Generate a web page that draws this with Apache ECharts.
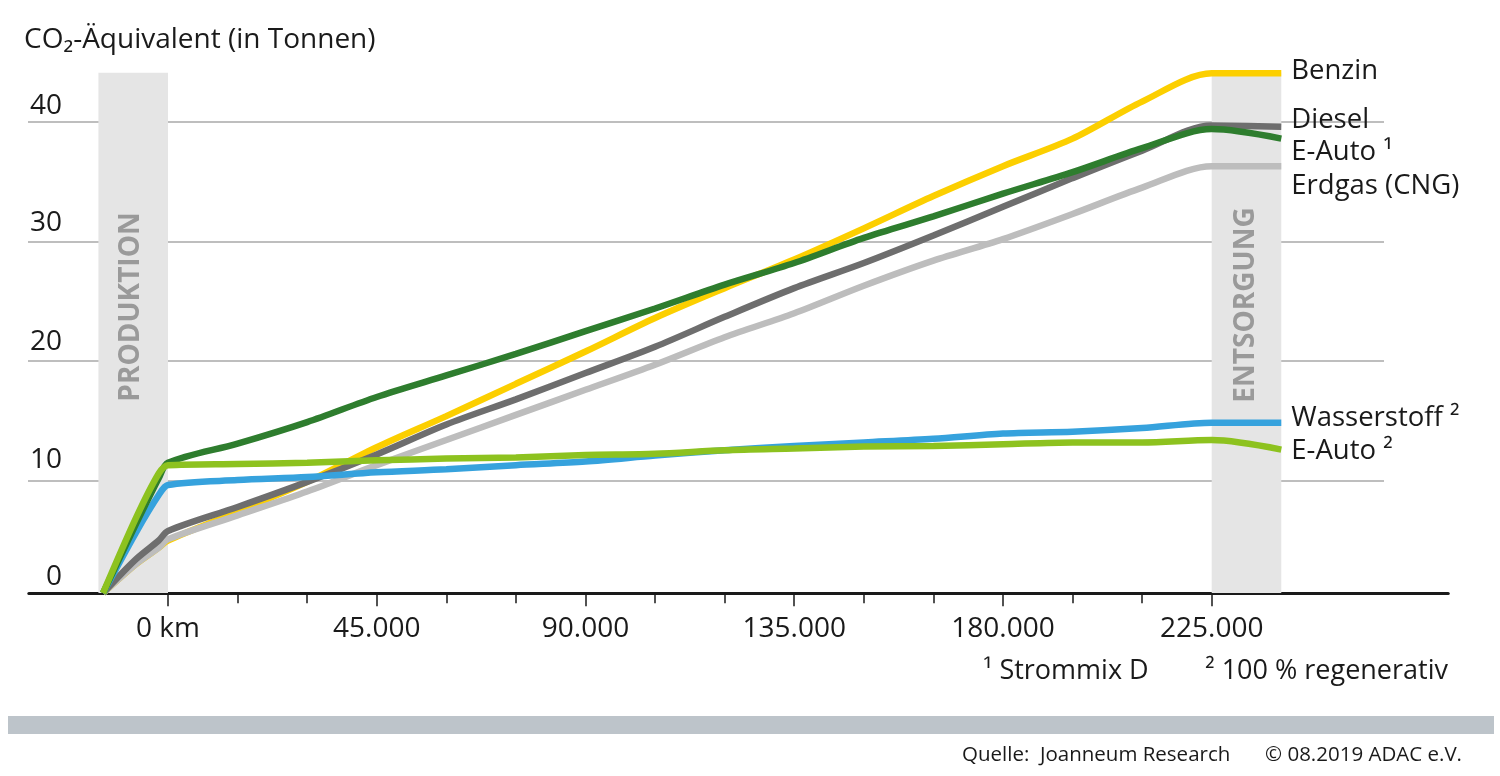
<!DOCTYPE html>
<html><head><meta charset="utf-8">
<script src="https://cdn.jsdelivr.net/npm/echarts@6/dist/echarts.min.js"></script>
<style>html,body{margin:0;padding:0;background:#fff}#c{width:1500px;height:776px}</style>
</head><body><div id="c"></div>
<script>
// ---- data (km, tonnes CO2-equivalent) ----
const km          = [-14000, -7000, -2000, 0, 15000, 30000, 45000, 60000, 75000, 90000, 105000, 120000, 135000, 150000, 165000, 180000, 195000, 210000, 225000, 240000];
const benzin      = [0.6, 3.0, 4.4, 5.0, 7.4, 9.9, 12.8, 15.4, 18.1, 20.8, 23.6, 26.1, 28.5, 31.1, 33.8, 36.3, 38.6, 41.7, 44.06, 44.06];
const diesel      = [0.6, 3.4, 5.0, 5.8, 7.8, 9.9, 12.2, 14.7, 16.8, 19.0, 21.2, 23.7, 26.1, 28.2, 30.5, 32.9, 35.3, 37.6, 39.7, 39.6];
const eAuto1      = [0.6, 6.3, 10.2, 11.5, 13.1, 14.9, 17.0, 18.8, 20.6, 22.5, 24.4, 26.4, 28.2, 30.3, 32.1, 34.0, 35.8, 37.8, 39.4, 38.6];
const erdgas      = [0.6, 3.0, 4.4, 5.1, 7.1, 9.1, 11.3, 13.4, 15.5, 17.6, 19.7, 22.0, 24.0, 26.3, 28.4, 30.2, 32.3, 34.5, 36.3, 36.3];
const wasserstoff = [0.6, 5.6, 8.8, 9.64, 10.05, 10.3, 10.7, 10.95, 11.3, 11.6, 12.1, 12.55, 12.9, 13.2, 13.5, 13.95, 14.1, 14.4, 14.85, 14.85];
const eAuto2      = [0.6, 6.8, 10.6, 11.3, 11.4, 11.5, 11.7, 11.85, 11.95, 12.15, 12.25, 12.55, 12.7, 12.85, 12.9, 13.05, 13.2, 13.2, 13.4, 12.6];

const seriesNames = ['Benzin', 'Erdgas (CNG)', 'Diesel', 'Wasserstoff ²', 'E-Auto ¹', 'E-Auto ²'];
const xTickValues = [0, 45000, 90000, 135000, 180000, 225000];
const xTickLabels = ['0 km', '45.000', '90.000', '135.000', '180.000', '225.000'];
const xMinorTicks = [0, 15000, 30000, 45000, 60000, 75000, 90000, 105000, 120000, 135000, 150000, 165000, 180000, 195000, 210000, 225000];
const phases      = [['PRODUKTION', -15000, 0], ['ENTSORGUNG', 225000, 240000]];
const bandRange   = [0.6, 44.1];

const FONT = '"Open Sans"';
const chart = echarts.init(document.getElementById('c'), null, {renderer: 'canvas'});

function mk(name, vals, color, offY) {
  return {
    name: name, type: 'line', xAxisIndex: 0, yAxisIndex: 0,
    data: km.map((x, i) => [x, vals[i]]),
    smooth: 0.3, symbol: 'none', z: 3,
    lineStyle: {color: color, width: 6.5, cap: 'butt'},
    itemStyle: {color: color},
    endLabel: {show: true, formatter: name, distance: 10, offset: [0, offY],
      fontFamily: FONT, fontSize: 27.5, color: '#1a1a1a'},
    emphasis: {disabled: true}, silent: true
  };
}

const yLabelRich = {
  l0:  {fontFamily: FONT, fontSize: 28, color: '#1a1a1a', lineHeight: 28, padding: [0, 0, 18, 0]},
  l10: {fontFamily: FONT, fontSize: 28, color: '#1a1a1a', lineHeight: 28, padding: [0, 0, 14, 0]},
  l20: {fontFamily: FONT, fontSize: 28, color: '#1a1a1a', lineHeight: 28, padding: [0, 0, 10, 0]},
  l30: {fontFamily: FONT, fontSize: 28, color: '#1a1a1a', lineHeight: 28, padding: [0, 0, 8, 0]},
  l40: {fontFamily: FONT, fontSize: 28, color: '#1a1a1a', lineHeight: 28, padding: [0, 0, 4, 0]}
};

const option = {
  animation: false,
  backgroundColor: '#fff',
  grid: [
    {left: 28.84, width: 1419.44, top: 62.1, height: 538.2},
    {left: 28, width: 1356, top: 62.1, height: 538.2}
  ],
  xAxis: [
    {type: 'value', gridIndex: 0, min: -30000, max: 276000, position: 'bottom', offset: -7,
     axisLine: {show: true, lineStyle: {color: '#1a1a1a', width: 3}},
     axisTick: {show: true, customValues: xMinorTicks, length: 10, lineStyle: {color: '#1a1a1a', width: 1.5}},
     axisLabel: {show: true, customValues: xTickValues, margin: 22, fontFamily: FONT, fontSize: 28, color: '#1a1a1a',
       formatter: v => xTickLabels[xTickValues.indexOf(v)]},
     splitLine: {show: false}},
    {type: 'value', gridIndex: 0, min: -30000, max: 276000, position: 'bottom', offset: -7,
     axisLine: {show: false},
     axisTick: {show: true, customValues: xTickValues, length: 13, lineStyle: {color: '#1a1a1a', width: 1.5}},
     axisLabel: {show: false}, splitLine: {show: false}},
    {type: 'value', gridIndex: 1, min: 0, max: 1, show: false}
  ],
  yAxis: [
    {type: 'value', gridIndex: 0, min: 0, max: 45, show: false, splitLine: {show: false}},
    {type: 'value', gridIndex: 1, min: 0, max: 45, interval: 10, z: 1,
     axisLine: {show: false}, axisTick: {show: false},
     splitLine: {show: true, showMinLine: false, showMaxLine: false, lineStyle: {color: '#a9a9a9', width: 1.5}},
     axisLabel: {inside: true, margin: 34, align: 'right', verticalAlign: 'bottom',
       fontFamily: FONT, fontSize: 28, color: '#1a1a1a', showMaxLabel: false,
       formatter: v => '{l' + v + '|' + v + '}', rich: yLabelRich}}
  ],
  series: [
    {type: 'line', xAxisIndex: 0, yAxisIndex: 0, z: 0, silent: true,
     data: [], symbol: 'none',
     markArea: {silent: true, itemStyle: {color: '#e5e5e5'},
       data: phases.map(p => [{coord: [p[1], bandRange[0]]}, {coord: [p[2], bandRange[1]]}])}},
    mk(seriesNames[0], benzin, '#fccf00', -2),
    mk(seriesNames[1], erdgas, '#bdbdbd', 20),
    mk(seriesNames[2], diesel, '#6e6e6e', -7),
    mk(seriesNames[3], wasserstoff, '#36a2dd', -5),
    mk(seriesNames[4], eAuto1, '#2e7d2e', 14),
    mk(seriesNames[5], eAuto2, '#8dc21f', 2)
  ],
  graphic: [
    {type: 'text', left: 24, top: 26, z: 10, style: {text: 'CO₂-Äquivalent (in Tonnen)', font: '28px ' + FONT, fill: '#1a1a1a'}},
    {type: 'text', x: 131, y: 307, rotation: Math.PI / 2, z: 10,
     style: {text: phases[0][0], font: 'bold 28px ' + FONT, fill: '#9a9a9a', align: 'center', verticalAlign: 'middle'}},
    {type: 'text', x: 1246, y: 305, rotation: Math.PI / 2, z: 10,
     style: {text: phases[1][0], font: 'bold 28px ' + FONT, fill: '#9a9a9a', align: 'center', verticalAlign: 'middle'}},
    {type: 'text', x: 983, y: 671, z: 10, style: {text: '¹ Strommix D', font: '27px ' + FONT, fill: '#1a1a1a', verticalAlign: 'middle'}},
    {type: 'text', x: 1448, y: 671, z: 10, style: {text: '² 100 % regenerativ', font: '27px ' + FONT, fill: '#1a1a1a', align: 'right', verticalAlign: 'middle'}},
    {type: 'rect', z: 10, shape: {x: 8, y: 716, width: 1486, height: 18}, style: {fill: '#bdc4ca'}},
    {type: 'text', x: 962, y: 755, z: 10, style: {text: 'Quelle:  Joanneum Research', font: '20.5px ' + FONT, fill: '#1a1a1a', verticalAlign: 'middle'}},
    {type: 'text', x: 1462, y: 755, z: 10, style: {text: '© 08.2019 ADAC e.V.', font: '20.5px ' + FONT, fill: '#1a1a1a', align: 'right', verticalAlign: 'middle'}}
  ]
};
chart.setOption(option);
</script></body></html>
